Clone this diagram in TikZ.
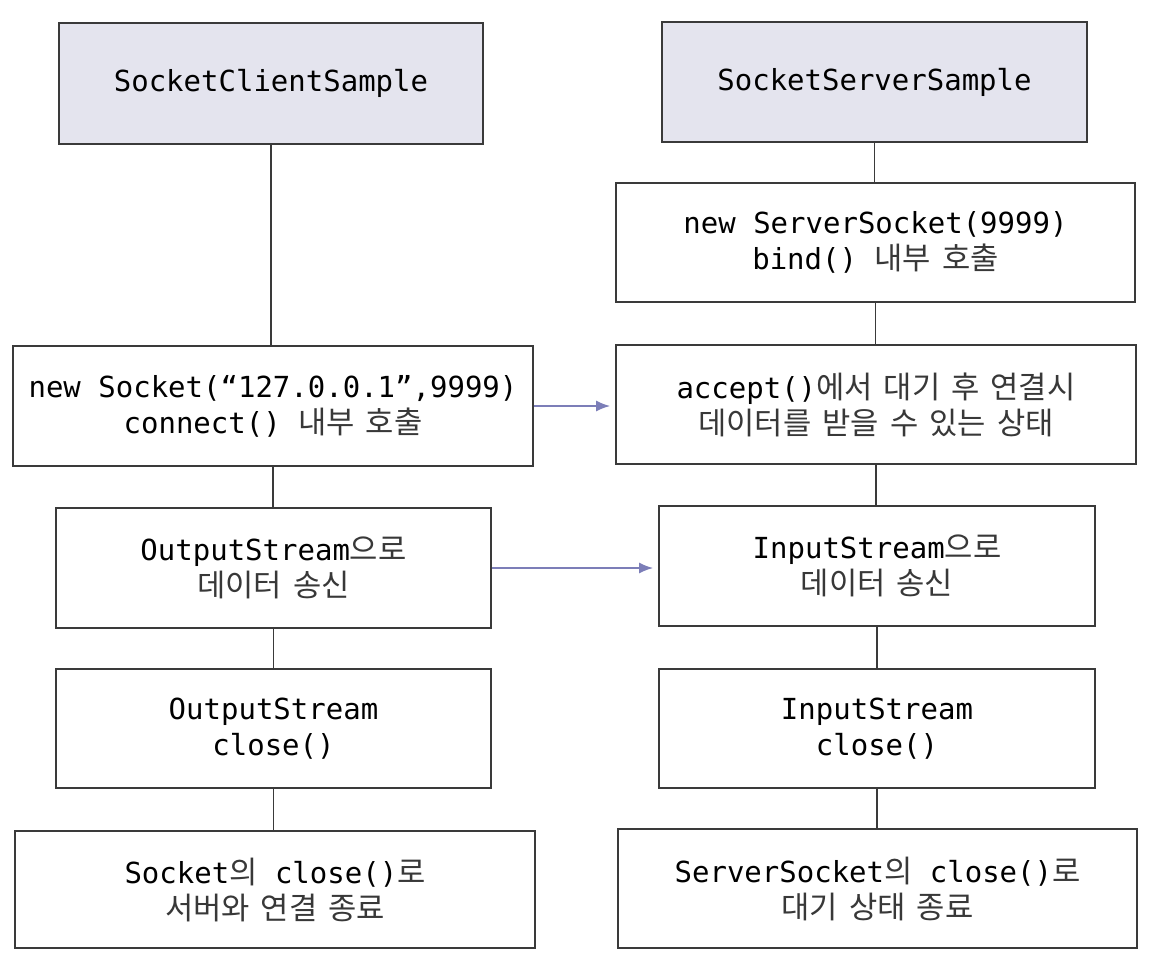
\documentclass[tikz,border=0pt]{standalone}
\usepackage{fontspec}
\setmonofont{DejaVu Sans Mono}
\newfontfamily\krfont{Noto Sans CJK KR}[WordSpace=1.6,Scale=1.06]
\usetikzlibrary{arrows.meta}
\definecolor{hdr}{HTML}{E4E4EE}
\definecolor{edge}{HTML}{3A3A3A}
\definecolor{arr}{HTML}{7C7EB8}
\newcommand{\kt}[1]{{\krfont\color{black!78}#1}}
\begin{document}
\begin{tikzpicture}[x=1pt,y=-1pt,
  box/.style={draw=edge, line width=1.8pt, fill=white, inner sep=0pt, align=center,
    font=\ttfamily\fontsize{29}{36}\selectfont},
  hdrbox/.style={box, fill=hdr},
  link/.style={draw=edge, line width=1.8pt},
  flow/.style={draw=arr, line width=1.6pt, -{Latex[length=14pt,width=11pt]}, shorten >=5pt}]
\useasboundingbox (0,0) rectangle (1150,962);

% left column
\node[hdrbox, minimum width=424pt, minimum height=121pt] (L0) at (271,83.5) {SocketClientSample};
\node[box, minimum width=520pt, minimum height=120pt] (L1) at (273,406) {new Socket(“127.0.0.1”,9999)\\connect() \kt{내부 호출}};
\node[box, minimum width=435pt, minimum height=120pt] (L2) at (273.5,568) {OutputStream\kt{으로}\\\kt{데이터 송신}};
\node[box, minimum width=435pt, minimum height=119pt] (L3) at (273.5,728.5) {OutputStream\\close()};
\node[box, minimum width=520pt, minimum height=117pt] (L4) at (275,889.5) {Socket\kt{의} close()\kt{로}\\\kt{서버와 연결 종료}};

% right column
\node[hdrbox, minimum width=425pt, minimum height=120pt] (R0) at (874.5,82) {SocketServerSample};
\node[box, minimum width=519pt, minimum height=119pt] (R1) at (875.5,242.5) {new ServerSocket(9999)\\bind() \kt{내부 호출}};
\node[box, minimum width=520pt, minimum height=119pt] (R2) at (876,404.5) {accept()\kt{에서 대기 후 연결시}\\\kt{데이터를 받을 수 있는 상태}};
\node[box, minimum width=436pt, minimum height=120pt] (R3) at (877,566) {InputStream\kt{으로}\\\kt{데이터 송신}};
\node[box, minimum width=436pt, minimum height=119pt] (R4) at (877,728.5) {InputStream\\close()};
\node[box, minimum width=519pt, minimum height=119pt] (R5) at (877.5,888.5) {ServerSocket\kt{의} close()\kt{로}\\\kt{대기 상태 종료}};

% vertical links
\draw[link] (L0.south) -- (L0.south |- L1.north);
\draw[link] (L1.south) -- (L1.south |- L2.north);
\draw[link] (L2.south) -- (L2.south |- L3.north);
\draw[link] (L3.south) -- (L3.south |- L4.north);
\draw[link] (R0.south) -- (R0.south |- R1.north);
\draw[link] (R1.south) -- (R1.south |- R2.north);
\draw[link] (R2.south) -- (R2.south |- R3.north);
\draw[link] (R3.south) -- (R3.south |- R4.north);
\draw[link] (R4.south) -- (R4.south |- R5.north);

% flows
\draw[flow] (L1.east) -- (L1.east -| R2.west);
\draw[flow] (L2.east) -- (L2.east -| R3.west);
\end{tikzpicture}
\end{document}
